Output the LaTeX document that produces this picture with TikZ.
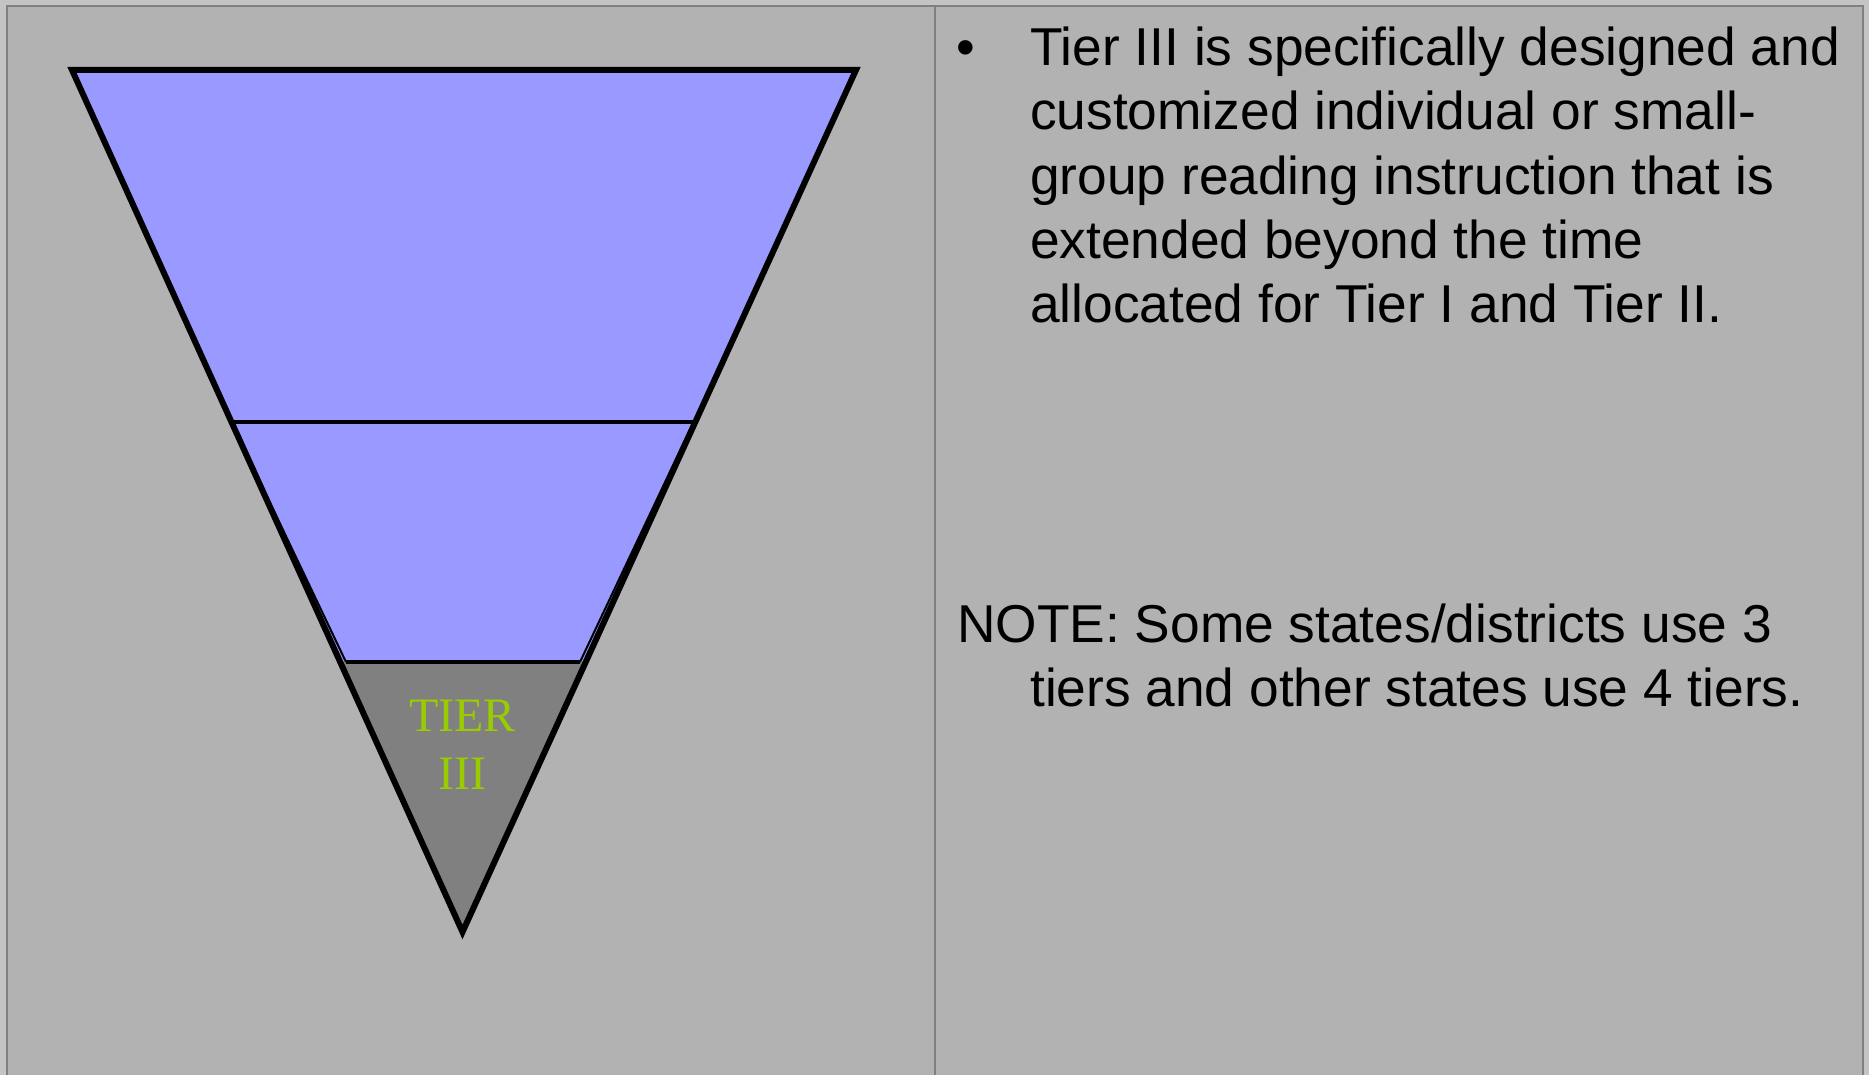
\documentclass[tikz,border=0pt]{standalone}
\usepackage{fontspec}
\setmainfont{Liberation Sans}
\newfontfamily\tierfont{Liberation Serif}
\usetikzlibrary{calc}
\definecolor{slide}{HTML}{B2B2B2}
\definecolor{outerbg}{HTML}{C4C4C4}
\definecolor{framegray}{HTML}{808080}
\definecolor{tierblue}{HTML}{9999FF}
\definecolor{tiergray}{HTML}{808080}
\definecolor{tiergreen}{HTML}{99CC00}
\begin{document}
\begin{tikzpicture}[x=1pt,y=-1pt,
  bodytext/.style={anchor=base west,inner sep=0pt,font=\fontsize{53.3pt}{64pt}\selectfont},
  tierlabel/.style={inner sep=0pt,align=center,text=tiergreen,font=\tierfont\fontsize{48pt}{58pt}\selectfont},
  outline/.style={line width=6pt,line join=miter},
  band/.style={line width=3.3pt},
  thinside/.style={line width=2pt}]
\useasboundingbox (0,0) rectangle (1869,1075);
\clip (0,0) rectangle (1869,1075);
% slide background and frame
\fill[outerbg] (0,0) rectangle (1869,1075);
\draw[fill=slide,draw=framegray,line width=2pt] (7,6) rectangle (1863,1090);
\coordinate (divtop) at (935,6);
\coordinate (divbot) at (935,1090);
\draw[framegray,line width=2pt] (divtop) -- (divbot);

% inverted triangle
\coordinate (A) at (72,70);
\coordinate (B) at (856,70);
\coordinate (C) at (462.5,932);
\coordinate (L1) at ($(A)!0.4084!(C)$);
\coordinate (R1) at ($(B)!0.4084!(C)$);
\coordinate (L2) at ($(A)!0.6868!(C)$);
\coordinate (R2) at ($(B)!0.6868!(C)$);
\coordinate (TL) at (232,423);
\coordinate (TR) at (693,423);
\coordinate (BL) at (346,662);
\coordinate (BR) at (580,662);

\fill[tierblue] (A) -- (B) -- (C) -- cycle;
\fill[tiergray] (L2) -- (R2) -- (C) -- cycle;
\draw[thinside] (TL) -- (BL);
\draw[thinside] (TR) -- (BR);
\draw[band] (L1) -- (R1);
\draw[band] (BL) -- (BR);
\draw[outline] (A) -- (B) -- (C) -- cycle;

\node[tierlabel] (tier3) at (462.5,745) {TIER\\III};

% description
\node[bodytext] (bullet) at (956,65.7) {•};
\node[bodytext] (d1) at (1030,65.7) {Tier III is specifically designed and};
\node[bodytext] (d2) at (1030,129.9) {customized individual or small-};
\node[bodytext] (d3) at (1030,194.1) {group reading instruction that is};
\node[bodytext] (d4) at (1030,258.3) {extended beyond the time};
\node[bodytext] (d5) at (1030,322.5) {allocated for Tier I and Tier II.};
\node[bodytext] (n1) at (957,642.3) {NOTE: Some states/districts use 3};
\node[bodytext] (n2) at (1030,706.5) {tiers and other states use 4 tiers.};
\end{tikzpicture}
\end{document}
